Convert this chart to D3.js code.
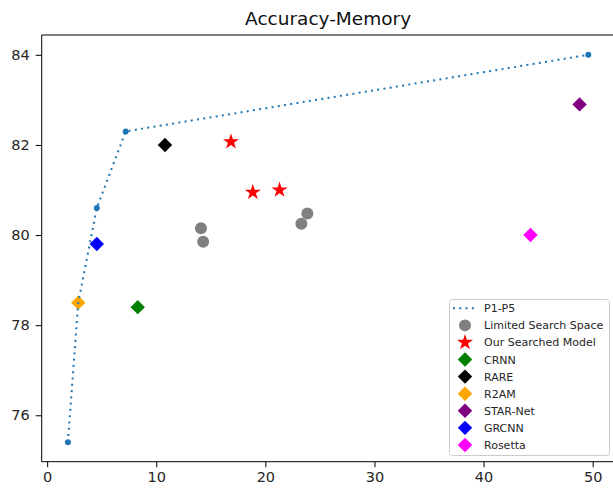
<!DOCTYPE html>
<html>
<head>
<meta charset="utf-8">
<script src="https://cdn.jsdelivr.net/npm/d3@7"></script>
<style>
    body { margin: 0; background: #fff; }
    svg { display: block; font-family: "DejaVu Sans", sans-serif; }
</style>
</head>
<body>
<svg id="chart" width="613" height="491"></svg>
<script>
// ------------------ DATA ------------------

let lineMemory = [1.9, 2.85, 4.55, 7.2, 49.6];
let lineAccuracy = [75.4, 78.5, 80.6, 82.3, 84.0];
let lineMarked = [true, false, true, true, true];

let limitedMemory = [14.1, 14.3, 23.3, 23.85];
let limitedAccuracy = [80.15, 79.85, 80.25, 80.48];

let ourMemory = [16.85, 18.85, 21.3];
let ourAccuracy = [82.07, 80.95, 81.0];

let modelNames = ["CRNN", "RARE", "R2AM", "STAR-Net", "GRCNN", "Rosetta"];
let modelMemory = [8.3, 10.8, 2.85, 48.8, 4.55, 44.3];
let modelAccuracy = [78.4, 82.0, 78.5, 82.9, 79.8, 80.0];
let modelColors = ["#008000", "#000000", "#ffa500", "#800080", "#0000ff", "#ff00ff"];

let xTicks = [0, 10, 20, 30, 40, 50];
let yTicks = [76, 78, 80, 82, 84];

let lineColor = "#1f77b4";

// ------------------ SETUP ------------------

let svg = d3.select("#chart");
let plotLeft = 41.7, plotRight = 614.5, plotTop = 35, plotBottom = 461.7;

let x = d3.scaleLinear().domain([-0.5, 52.0]).range([plotLeft, plotRight]);
let y = d3.scaleLinear().domain([74.97, 84.44]).range([plotBottom, plotTop]);

let diamond = d3.symbol().type(d3.symbolSquare).size(104);
let star = d3.symbol().type(d3.symbolStar).size(80);

// ------------------ AXES ------------------

let xAxis = svg.append("g")
    .attr("transform", "translate(0," + plotBottom + ")")
    .call(d3.axisBottom(x).tickValues(xTicks).tickSize(5.5).tickPadding(5));

let yAxis = svg.append("g")
    .attr("transform", "translate(" + plotLeft + ",0)")
    .call(d3.axisLeft(y).tickValues(yTicks).tickSize(6).tickPadding(6));

[xAxis, yAxis].forEach(function (a) {
    a.select(".domain").remove();
    a.selectAll("line").attr("stroke", "#000").attr("stroke-width", 1);
    a.selectAll("text")
        .attr("font-family", "DejaVu Sans")
        .attr("font-size", 14.5)
        .attr("fill", "#262626");
});

// spines
svg.append("path")
    .attr("d", "M" + plotLeft + "," + plotTop + "V" + plotBottom + "H" + plotRight)
    .attr("fill", "none")
    .attr("stroke", "#000")
    .attr("stroke-width", 1);
svg.append("line")
    .attr("x1", plotLeft).attr("x2", plotRight)
    .attr("y1", plotTop).attr("y2", plotTop)
    .attr("stroke", "#000");

svg.append("text")
    .attr("x", (plotLeft + plotRight) / 2)
    .attr("y", 25)
    .attr("text-anchor", "middle")
    .attr("font-size", 18.5)
    .attr("fill", "#111")
    .text("Accuracy-Memory");

// ------------------ MARKS ------------------

let linePts = lineMemory.map(function (m, i) { return [x(m), y(lineAccuracy[i])]; });

svg.append("g").selectAll("circle")
    .data(linePts.filter(function (p, i) { return lineMarked[i]; }))
    .enter().append("circle")
    .attr("cx", function (d) { return d[0]; })
    .attr("cy", function (d) { return d[1]; })
    .attr("r", 3)
    .attr("fill", lineColor);

svg.append("g").selectAll("circle")
    .data(limitedMemory)
    .enter().append("circle")
    .attr("cx", function (d) { return x(d); })
    .attr("cy", function (d, i) { return y(limitedAccuracy[i]); })
    .attr("r", 6)
    .attr("fill", "#808080");

svg.append("g").selectAll("path")
    .data(ourMemory)
    .enter().append("path")
    .attr("d", star)
    .attr("transform", function (d, i) { return "translate(" + x(d) + "," + y(ourAccuracy[i]) + ")"; })
    .attr("fill", "#ff0000");

svg.append("g").selectAll("path")
    .data(modelMemory)
    .enter().append("path")
    .attr("d", diamond)
    .attr("transform", function (d, i) { return "translate(" + x(d) + "," + y(modelAccuracy[i]) + ") rotate(45)"; })
    .attr("fill", function (d, i) { return modelColors[i]; });

svg.append("path")
    .attr("d", d3.line()(linePts))
    .attr("fill", "none")
    .attr("stroke", lineColor)
    .attr("stroke-width", 2)
    .attr("stroke-dasharray", "2,4.3");

// ------------------ LEGEND ------------------

let legend = svg.append("g");
legend.append("rect")
    .attr("x", 449.5).attr("y", 299.5)
    .attr("width", 160).attr("height", 156)
    .attr("rx", 3)
    .attr("fill", "rgba(255,255,255,0.8)")
    .attr("stroke", "#cccccc");

let legendItems = ["P1-P5", "Limited Search Space", "Our Searched Model"].concat(modelNames);
let rowY = function (i) { return 308.3 + i * 17.08; };

legendItems.forEach(function (name, i) {
    let ly = rowY(i);
    if (i == 0) {
        legend.append("line")
            .attr("x1", 453).attr("x2", 476)
            .attr("y1", ly).attr("y2", ly)
            .attr("stroke", lineColor)
            .attr("stroke-width", 2)
            .attr("stroke-dasharray", "2,4.3");
    } else if (i == 1) {
        legend.append("circle")
            .attr("cx", 465).attr("cy", ly).attr("r", 6)
            .attr("fill", "#808080");
    } else if (i == 2) {
        legend.append("path")
            .attr("d", star)
            .attr("transform", "translate(465," + ly + ")")
            .attr("fill", "#ff0000");
    } else {
        legend.append("path")
            .attr("d", diamond)
            .attr("transform", "translate(465," + ly + ") rotate(45)")
            .attr("fill", modelColors[i - 3]);
    }
    legend.append("text")
        .attr("x", 484)
        .attr("y", ly + 4)
        .attr("font-size", 11)
        .attr("fill", "#262626")
        .text(name);
});
</script>
</body>
</html>
